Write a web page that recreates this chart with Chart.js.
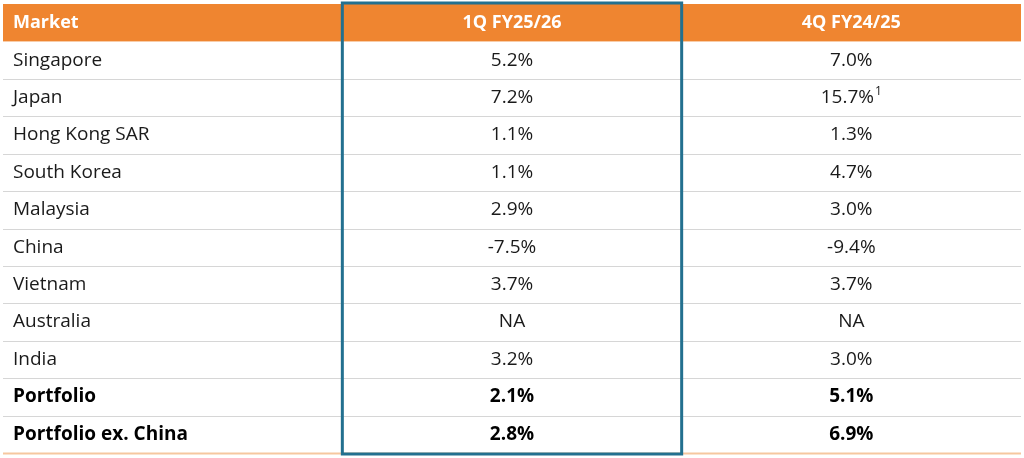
<!DOCTYPE html>
<html><head><meta charset="utf-8">
<script src="https://cdn.jsdelivr.net/npm/chart.js@4"></script>
<style>html,body{margin:0;padding:0;background:#fff;overflow:hidden}</style>
</head><body>
<canvas id="c" width="1024" height="458"></canvas>
<script>
const columns = ['Market', '1Q FY25/26', '4Q FY24/25'];
const markets = ['Singapore','Japan','Hong Kong SAR','South Korea','Malaysia','China','Vietnam','Australia','India','Portfolio','Portfolio ex. China'];
const q1FY2526 = ['5.2%','7.2%','1.1%','1.1%','2.9%','-7.5%','3.7%','NA','3.2%','2.1%','2.8%'];
const q4FY2425 = ['7.0%','15.7%','1.3%','4.7%','3.0%','-9.4%','3.7%','NA','3.0%','5.1%','6.9%'];
const footnotes = ['', '1', '', '', '', '', '', '', '', '', ''];
const boldRows = ['Portfolio','Portfolio ex. China'];

const rowLabels = ['__header__'].concat(markets);
const FONT = '"Open Sans","Noto Sans",sans-serif';
const FS = '19px ';

const tablePlugin = {
  id: 'table',
  afterDraw(chart) {
    const ctx = chart.ctx, xs = chart.scales.x, ys = chart.scales.y;
    const ca = chart.chartArea;
    const rowH = ys.getPixelForValue(1) - ys.getPixelForValue(0);
    const colW = xs.getPixelForValue(1) - xs.getPixelForValue(0);
    ctx.save();
    const hy = ys.getPixelForValue(0);
    ctx.fillStyle = '#EF8530';
    ctx.fillRect(ca.left, hy - rowH/2, ca.right - ca.left, rowH);
    for (let i = 1; i < rowLabels.length; i++) {
      const yb = ys.getPixelForValue(i) + rowH/2;
      ctx.strokeStyle = i === rowLabels.length - 1 ? '#F6C79F' : '#D6D6D6';
      ctx.lineWidth = i === rowLabels.length - 1 ? 2 : 1;
      ctx.beginPath(); ctx.moveTo(ca.left, Math.round(yb)+0.5); ctx.lineTo(ca.right, Math.round(yb)+0.5); ctx.stroke();
    }
    ctx.textBaseline = 'middle';
    ctx.fillStyle = '#fff';
    ctx.font = 'bold 18px ' + FONT;
    columns.forEach((c, j) => {
      const x = xs.getPixelForValue(j);
      if (j === 0) { ctx.textAlign = 'left'; ctx.fillText(c, x - colW/2 + 10, hy); }
      else { ctx.textAlign = 'center'; ctx.fillText(c, x, hy); }
    });
    markets.forEach((m, i) => {
      const y = ys.getPixelForValue(i + 1);
      const bold = boldRows.includes(m);
      const f = (bold ? 'bold ' : '') + FS + FONT;
      ctx.fillStyle = bold ? '#000' : '#1a1a1a';
      ctx.font = f;
      ctx.textAlign = 'left';
      ctx.fillText(m, xs.getPixelForValue(0) - colW/2 + 10, y);
      ctx.textAlign = 'center';
      ctx.fillText(q1FY2526[i], xs.getPixelForValue(1), y);
      const v = q4FY2425[i];
      const x2 = xs.getPixelForValue(2);
      if (footnotes[i]) {
        const w = ctx.measureText(v).width;
        ctx.font = '12px ' + FONT;
        const fw = ctx.measureText(footnotes[i]).width;
        ctx.font = f;
        ctx.textAlign = 'left';
        const sx = x2 - (w + fw + 1)/2;
        ctx.fillText(v, sx, y);
        ctx.font = '12px ' + FONT;
        ctx.fillText(footnotes[i], sx + w + 1, y - 6);
      } else {
        ctx.fillText(v, x2, y);
      }
    });
    const bx = xs.getPixelForValue(1);
    ctx.strokeStyle = '#23708F';
    ctx.lineWidth = 3;
    ctx.strokeRect(bx - colW/2, ca.top - 1, colW, ca.bottom - ca.top + 2);
    ctx.restore();
  }
};

new Chart(document.getElementById('c'), {
  type: 'bar',
  data: { labels: columns, datasets: [] },
  options: {
    responsive: false, animation: false, devicePixelRatio: 1,
    layout: { padding: { left: 3, right: 3, top: 4, bottom: 5 } },
    plugins: { legend: { display: false }, tooltip: { enabled: false } },
    scales: {
      x: { type: 'category', labels: columns, offset: true, display: false },
      y: { type: 'category', labels: rowLabels, offset: true, display: false }
    }
  },
  plugins: [tablePlugin]
});
</script>
</body></html>
